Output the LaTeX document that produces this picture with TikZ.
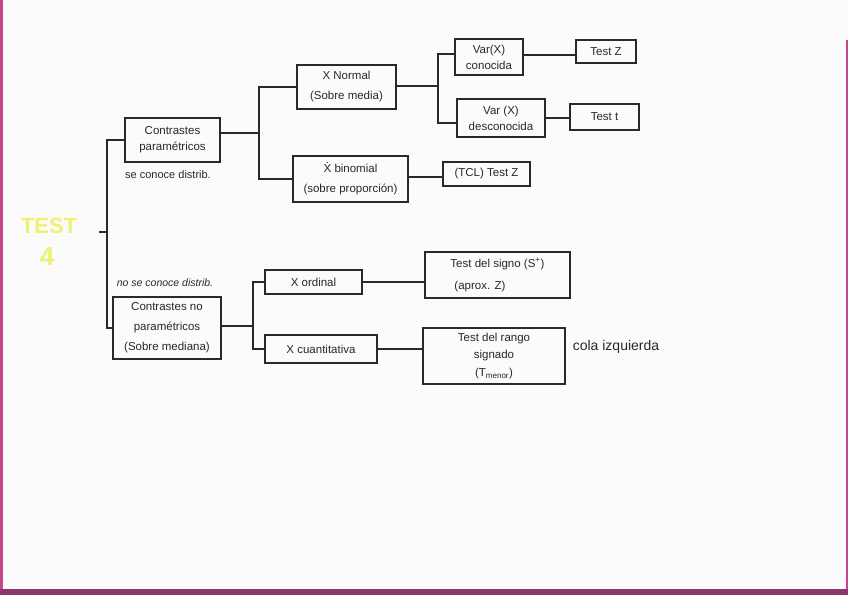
\documentclass[tikz,border=0pt]{standalone}
\usepackage{fontspec}
\setmainfont{Liberation Sans}
\definecolor{ink}{RGB}{40,40,45}
\definecolor{paper}{RGB}{251,251,251}
\definecolor{testyellow}{RGB}{238,242,110}
\definecolor{edgepink}{RGB}{200,70,140}
\definecolor{edgeplum}{RGB}{140,55,105}
\newcommand{\bxfont}{\fontsize{11.5}{16}\selectfont}
\newcommand{\bxfontwide}{\fontsize{11.5}{20}\selectfont}
\tikzset{
  bx/.style={draw=ink, line width=1.4pt, inner sep=0pt, align=center, text=ink, font=\bxfont},
  bxw/.style={bx, font=\bxfontwide},
  conn/.style={draw=ink, line width=1.5pt},
  lbl/.style={text=ink, inner sep=0pt, font=\fontsize{11}{12}\selectfont},
  title/.style={text=testyellow, inner sep=0pt, font=\bfseries}
}
\begin{document}
\begin{tikzpicture}[x=1pt,y=-1pt]
\useasboundingbox (0,0) rectangle (848,595);
% paper and edges
\fill[paper] (0,0) rectangle (848,595);
\fill[edgepink] (0,0) rectangle (3,595);
\fill[edgepink] (846,40) rectangle (848,595);
\fill[edgeplum] (0,589) rectangle (848,595);
% title
\node[title, font=\bfseries\fontsize{22}{24}\selectfont] (t1) at (49,226) {TEST};
\node[title, font=\bfseries\fontsize{26}{28}\selectfont] (t2) at (47,257) {4};
% first level
\node[bx, minimum width=95, minimum height=44] (cp) at (172.5,140) {Contrastes\\paramétricos};
\node[bxw, minimum width=108, minimum height=62] (cnp) at (167,328) {Contrastes no\\paramétricos\\(Sobre mediana)};
\node[lbl] (se) at (168,175) {se conoce distrib.};
\node[lbl, font=\itshape\fontsize{10.5}{12}\selectfont] (nse) at (165,283) {no se conoce distrib.};
% second level (top)
\node[bxw, minimum width=99, minimum height=44] (xn) at (346.5,87) {X Normal\\(Sobre media)};
\node[bxw, minimum width=115, minimum height=46] (xb) at (350.5,179) {\.{X} binomial\\(sobre proporción)};
% third level (top)
\node[bx, minimum width=68, minimum height=36] (vc) at (489,57) {Var(X)\\conocida};
\node[bx, minimum width=88, minimum height=38] (vd) at (501,118) {Var (X)\\desconocida};
\node[bx, minimum width=60, minimum height=23] (tz) at (606,51.5) {Test Z};
\node[bx, minimum width=69, minimum height=26] (tt) at (604.5,117) {Test t};
\node[bx, minimum width=87, minimum height=24] (tcl) at (486.5,174) {(TCL) Test Z};
% second level (bottom)
\node[bx, minimum width=97, minimum height=24] (xo) at (313.5,282) {X ordinal};
\node[bx, minimum width=112, minimum height=28] (xq) at (321,349) {X cuantitativa};
\node[bx, align=left, font=\fontsize{11.5}{22}\selectfont, minimum width=145, minimum height=46] (ts) at (497.5,275) {Test del signo (S\textsuperscript{+})\\\hspace{4pt}(aprox. Z)};
\node[bx, font=\fontsize{11.5}{17.5}\selectfont, minimum width=142, minimum height=56] (tr) at (494,356) {Test del rango\\signado\\(T\textsubscript{menor})};
\node[lbl, font=\fontsize{14}{16}\selectfont] (cola) at (616,347) {cola izquierda};
% junctions
\coordinate (r0) at (99,232);
\coordinate (v0) at (107,232);
\coordinate (j1) at (259,133);
\coordinate (j2) at (438,86);
\coordinate (j3) at (253,326);
% connectors
\draw[conn] (r0) -- (v0);
\draw[conn] (cp.west) -| (v0) |- (cnp.west);
\draw[conn] (cp.east |- j1) -- (j1);
\draw[conn] (xn.west) -| (j1) |- (xb.west);
\draw[conn] (xn.east |- j2) -- (j2);
\draw[conn] ([yshift=3pt]vc.west) -| (j2) |- ([yshift=-5pt]vd.west);
\draw[conn] ([yshift=2pt]vc.east) -- ([yshift=2pt]vc.east -| tz.west);
\draw[conn] (vd.east) -- (vd.east -| tt.west);
\draw[conn] ([yshift=2pt]xb.east) -- ([yshift=2pt]xb.east -| tcl.west);
\draw[conn] (cnp.east |- j3) -- (j3);
\draw[conn] (xo.west) -| (j3) |- (xq.west);
\draw[conn] (xo.east) -- (xo.east -| ts.west);
\draw[conn] (xq.east) -- (xq.east -| tr.west);
\end{tikzpicture}
\end{document}
